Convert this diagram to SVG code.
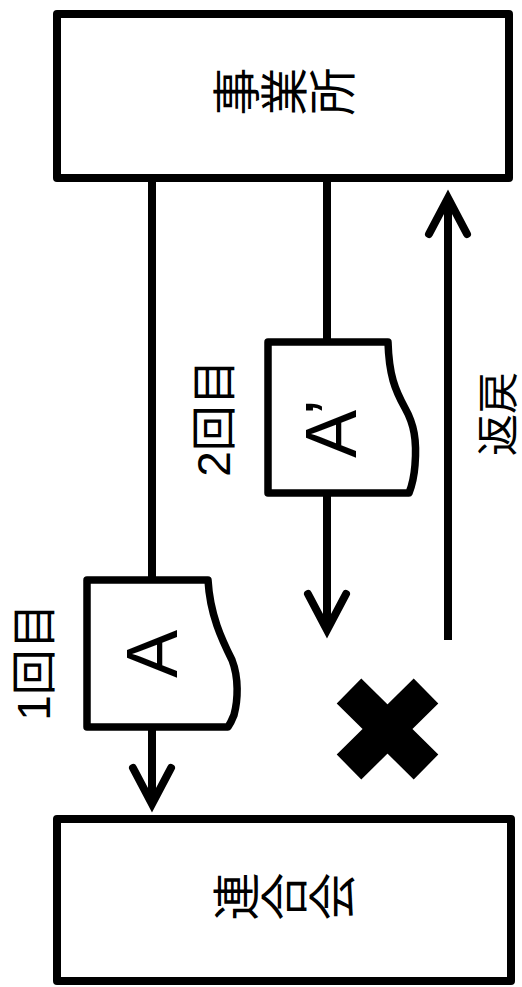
<svg xmlns="http://www.w3.org/2000/svg" width="522" height="987" viewBox="0 0 522 987">
<style>
.box{fill:#fff;stroke:#000;stroke-width:8;stroke-linejoin:round}
.doc{fill:#fff;stroke:#000;stroke-width:7.5;stroke-linejoin:round}
.ln{fill:none;stroke:#000;stroke-width:8}
.cj{font-family:"Liberation Sans","Noto Sans CJK JP",sans-serif;fill:#000}
.lat{font-family:"Liberation Sans",Arial,sans-serif;fill:#000}
</style>
<defs>
<marker id="ah" markerUnits="userSpaceOnUse" markerWidth="60" markerHeight="60" refX="0" refY="0" orient="auto" overflow="visible">
<path d="M-36,-19 L0,0 L-36,19" fill="none" stroke="#000" stroke-width="8" stroke-linecap="round" stroke-linejoin="miter"/>
</marker>
</defs>
<rect width="522" height="987" fill="#fff"/>
<g id="connectors">
<path class="ln" d="M152,182 V580"/>
<path class="ln" d="M152,727 V804" marker-end="url(#ah)"/>
<path class="ln" d="M327,182 V342"/>
<path class="ln" d="M327,493 V630" marker-end="url(#ah)"/>
<path class="ln" d="M448,640 V198" marker-end="url(#ah)"/>
</g>
<g id="jigyosho">
<rect class="box" x="57" y="14" width="452" height="164"/>
<text class="cj" font-size="48" writing-mode="vertical-rl" text-anchor="middle" transform="translate(284,96) rotate(-90)">事業所</text>
</g>
<g id="rengokai">
<rect class="box" x="57" y="819" width="454" height="162"/>
<text class="cj" font-size="48" writing-mode="vertical-rl" text-anchor="middle" transform="translate(284,901) rotate(-90)">連合会</text>
</g>
<g id="docA">
<path class="doc" d="M87,580 H208 C210,615 222,640 232,660 C239,678 238,700 234,715 C232,720 230,724 228,727 H87 Z"/>
<text class="lat" font-size="72" transform="translate(177,678) rotate(-90)">A</text>
</g>
<g id="docA2">
<path class="doc" d="M268,342 H388 C389,375 395,390 405,408 C414,424 417,440 415,465 C414,478 411,488 409,493 H268 Z"/>
<text class="lat" font-size="72" transform="translate(356,458) rotate(-90)">A’</text>
</g>
<g id="label1">
<text class="cj" font-size="46" text-anchor="middle" dominant-baseline="central" transform="translate(34,662) rotate(-90)">1回目</text>
</g>
<g id="label2">
<text class="cj" font-size="46" text-anchor="middle" dominant-baseline="central" transform="translate(214,418) rotate(-90)">2回目</text>
</g>
<g id="label3">
<text class="cj" font-size="42" text-anchor="middle" dominant-baseline="central" transform="translate(498,414) rotate(-90)">返戻</text>
</g>
<g id="cross">
<path d="M349,691 L426,767 M426,691 L349,767" stroke="#000" stroke-width="35" fill="none"/>
</g>
</svg>
